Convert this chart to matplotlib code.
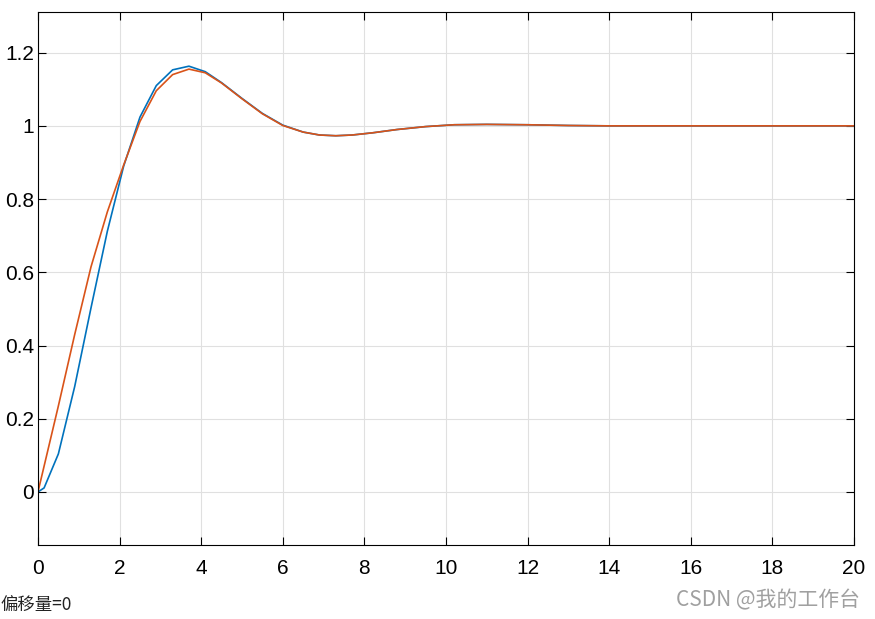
import matplotlib.pyplot as plt
from matplotlib.ticker import FuncFormatter

plt.rcParams['font.family'] = ['Liberation Sans', 'Noto Sans CJK SC', 'DejaVu Sans']

# continuous response (blue)
t_blue = [0, 0.15, 0.5, 0.9, 1.3, 1.7, 2.1, 2.5, 2.9, 3.3, 3.7, 4.1, 4.5, 5.0, 5.5,
          6.0, 6.5, 6.9, 7.3, 7.7, 8.2, 8.8, 9.5, 10.2, 11.0, 12.0, 13.0, 14.0,
          16.0, 18.0, 20.0]
y_blue = [0, 0.011, 0.104, 0.288, 0.503, 0.712, 0.890, 1.024, 1.110, 1.153, 1.163, 1.148,
          1.118, 1.075, 1.034, 1.002, 0.983, 0.975, 0.973, 0.975, 0.981, 0.990, 0.998,
          1.003, 1.004, 1.003, 1.001, 1.000, 1.000, 1.000, 1.000]

# second response (red)
t_red = [0, 0.5, 0.9, 1.3, 1.7, 2.1, 2.5, 2.9, 3.3, 3.7, 4.1, 4.5, 5.0, 5.5,
         6.0, 6.5, 6.9, 7.3, 7.7, 8.2, 8.8, 9.5, 10.2, 11.0, 12.0, 13.0, 14.0,
         16.0, 18.0, 20.0]
y_red = [0, 0.235, 0.43, 0.615, 0.765, 0.893, 1.012, 1.096, 1.140, 1.155, 1.145,
         1.117, 1.074, 1.033, 1.001, 0.983, 0.975, 0.973, 0.975, 0.981, 0.990, 0.998,
         1.003, 1.004, 1.003, 1.001, 1.000, 1.000, 1.000, 1.000]

xticks = list(range(0, 21, 2))
yticks = [0, 0.2, 0.4, 0.6, 0.8, 1.0, 1.2]

fig = plt.figure(figsize=(8.75, 6.19), dpi=100)
ax = fig.add_axes([0.0434, 0.1195, 0.9326, 0.8611])

ax.plot(t_blue, y_blue, color='#0072BD', lw=1.2)
ax.plot(t_red, y_red, color='#D95319', lw=1.2)

ax.set_xlim(0, 20)
ax.set_ylim(-0.145, 1.311)
ax.set_xticks(xticks)
ax.set_yticks(yticks)
ax.yaxis.set_major_formatter(FuncFormatter(lambda v, p: ('%g' % round(v, 2))))
ax.grid(True, color='#e0e0e0', lw=0.8)
ax.set_axisbelow(True)
ax.tick_params(direction='in', length=5.5, width=0.8, labelsize=15,
               top=True, right=True)
ax.tick_params(axis='x', pad=10)
ax.tick_params(axis='y', pad=3)
for s in ax.spines.values():
    s.set_linewidth(0.8)

fig.text(0.0, 0.0226, '偏移量=0', fontsize=12.5, color='#222222', va='center',
         family=['Noto Sans CJK SC', 'DejaVu Sans'])
fig.text(0.983, 0.0307, 'CSDN @我的工作台', fontsize=15, color='#a0a0a0',
         ha='right', va='center', family=['Noto Sans CJK SC', 'DejaVu Sans'])

fig.savefig('out.png', dpi=100)
